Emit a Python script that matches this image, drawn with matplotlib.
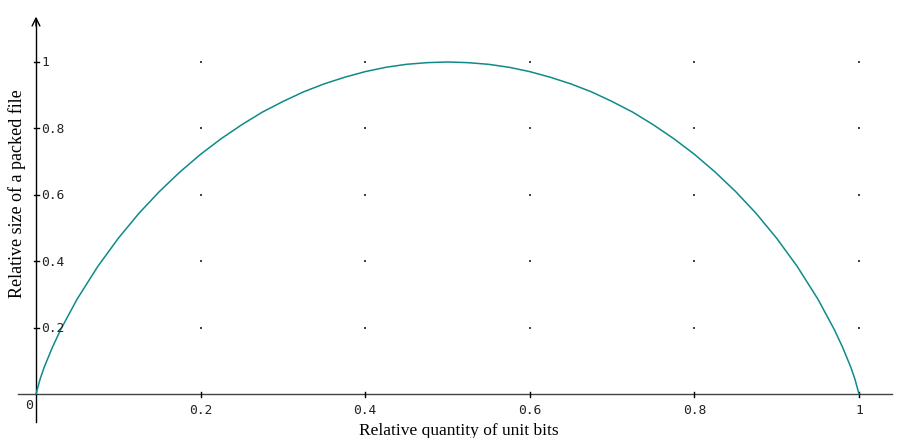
import matplotlib
matplotlib.use("Agg")
import matplotlib.pyplot as plt

# Curve samples: relative quantity of unit bits -> relative packed size
share_of_ones = [0.0, 0.005, 0.01, 0.02, 0.03, 0.05, 0.075, 0.1, 0.125, 0.15, 0.175,
                 0.2, 0.225, 0.25, 0.275, 0.3, 0.325, 0.35, 0.375, 0.4, 0.425, 0.45,
                 0.475, 0.5, 0.525, 0.55, 0.575, 0.6, 0.625, 0.65, 0.675, 0.7, 0.725,
                 0.75, 0.775, 0.8, 0.825, 0.85, 0.875, 0.9, 0.925, 0.95, 0.97, 0.98,
                 0.99, 0.995, 1.0]
packed_size = [0.0, 0.045, 0.081, 0.141, 0.194, 0.286, 0.384, 0.469, 0.544, 0.610, 0.669,
               0.722, 0.769, 0.811, 0.849, 0.881, 0.910, 0.934, 0.954, 0.971, 0.984, 0.993,
               0.998, 1.0, 0.998, 0.993, 0.984, 0.971, 0.954, 0.934, 0.910, 0.881, 0.849,
               0.811, 0.769, 0.722, 0.669, 0.610, 0.544, 0.469, 0.384, 0.286, 0.194, 0.141,
               0.081, 0.045, 0.0]

x_ticks = [0.2, 0.4, 0.6, 0.8, 1.0]
x_tick_labels = ["0.2", "0.4", "0.6", "0.8", "1"]
y_ticks = [0.2, 0.4, 0.6, 0.8, 1.0]
y_tick_labels = ["0.2", "0.4", "0.6", "0.8", "1"]

W, H = 907, 439
fig = plt.figure(figsize=(W / 100, H / 100), dpi=100)
ax = fig.add_axes([0, 0, 1, 1])
ax.set_axis_off()

# pixel geometry of the coordinate frame
ox, oy = 36, 395          # origin
sx, sy = 823, 332         # pixels per unit
ax.set_xlim(-ox / sx, (W - ox) / sx)
ax.set_ylim((oy - H) / sy, oy / sy)

# axes with open arrowheads
ax.plot([-18 / sx, 1.04], [0, 0], color="#444444", lw=1.0)
ax.plot([0, 0], [-28 / sy, 1.13], color="black", lw=1.0)
ax.annotate("", xy=(0, 1.145), xytext=(0, 1.10),
            arrowprops=dict(arrowstyle="->", color="black", lw=1.0, mutation_scale=14))
ax.annotate("", xy=(1.062, 0), xytext=(1.03, 0),
            arrowprops=dict(arrowstyle="->", color="#555555", lw=1.0, mutation_scale=14))

tick_dx = 2.5 / sx
tick_dy = 2.5 / sy
mono = "DejaVu Sans Mono"
for xv, lab in zip(x_ticks, x_tick_labels):
    ax.plot([xv, xv], [-tick_dy, tick_dy], color="black", lw=1.0)
    ax.text(xv, -16 / sy, lab, ha="center", va="center", fontsize=9.3,
            family=mono, color="#222222")
for yv, lab in zip(y_ticks, y_tick_labels):
    ax.plot([-tick_dx, tick_dx], [yv, yv], color="black", lw=1.0)
    ax.text(5 / sx, yv, lab, ha="left", va="center", fontsize=9.3,
            family=mono, color="#222222")
ax.text(-7 / sx, -11 / sy, "0", ha="center", va="center", fontsize=9.5,
        family=mono, color="#222222")

# dotted grid at tick intersections
gx = [xv for xv in x_ticks for _ in y_ticks]
gy = [yv for _ in x_ticks for yv in y_ticks]
ax.scatter(gx, gy, s=1.0, color="#444444", marker="s", linewidths=0)

ax.plot(share_of_ones, packed_size, color="#0f8a8a", lw=1.1)

serif = "Liberation Serif"
ax.text(-19 / sx, (oy - 194) / sy, "Relative size of a packed file", rotation=90,
        ha="center", va="center", fontsize=13, family=serif, color="black")
ax.text((459 - ox) / sx, (oy - 431) / sy, "Relative quantity of unit bits",
        ha="center", va="center", fontsize=12.5, family=serif, color="black")

fig.savefig("out.png", dpi=100)
